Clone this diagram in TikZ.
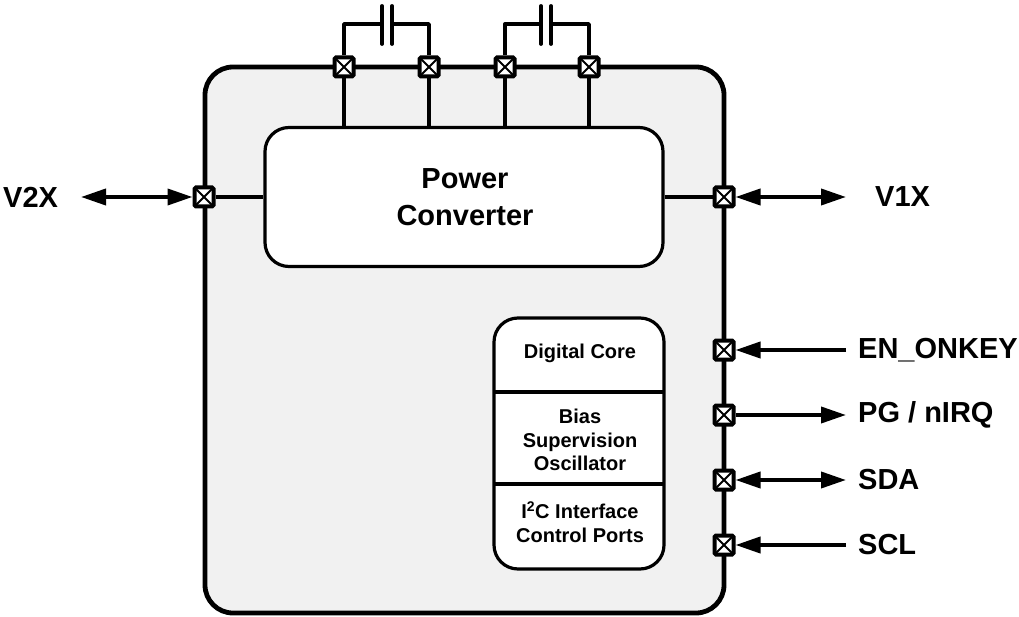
\documentclass[tikz,border=0pt]{standalone}
\usepackage{fontspec}
\setmainfont{Liberation Sans}
\usetikzlibrary{arrows.meta}
\tikzset{
  x=1pt,y=-1pt,
  chip/.style={draw=black,line width=4.8pt,fill=chipfill,rounded corners=28pt,inner sep=0pt},
  block/.style={draw=black,line width=3.2pt,fill=white,rounded corners=24pt,inner sep=0pt},
  wire/.style={draw=black,line width=3.4pt},
  sig/.style={draw=black,line width=3.8pt,-{Triangle[length=25pt,width=16pt]}},
  bisig/.style={draw=black,line width=3.8pt,{Triangle[length=25pt,width=16pt]}-{Triangle[length=25pt,width=16pt]}},
  padbox/.style={draw=black,line width=4pt,fill=white,minimum size=19pt,inner sep=0pt,rounded corners=1.5pt,
    path picture={\draw[black,line width=1.8pt] (path picture bounding box.south west)--(path picture bounding box.north east)
      (path picture bounding box.north west)--(path picture bounding box.south east);}},
  biglabel/.style={font=\bfseries\fontsize{29}{34}\selectfont,inner sep=0pt},
  smalllabel/.style={font=\bfseries\fontsize{20}{23.6}\selectfont,align=center,inner sep=0pt},
  plate/.style={draw=black,line width=3.8pt,line cap=round},
}
\definecolor{chipfill}{HTML}{F1F1F1}
\begin{document}
\begin{tikzpicture}
\useasboundingbox (0,0) rectangle (1019,617);
% outer chip
\node[chip,minimum width=519pt,minimum height=546pt] (chip) at (464.5,340) {};
% blocks
\node[block,minimum width=398pt,minimum height=139pt] (conv) at (464,197) {};
\node[block,minimum width=170pt,minimum height=251pt] (core) at (579,443.5) {};
\coordinate (d1l) at (494,392); \coordinate (d1r) at (664,392);
\coordinate (d2l) at (494,484); \coordinate (d2r) at (664,484);
\draw[wire] (d1l)--(d1r) (d2l)--(d2r);
\node[font=\bfseries\fontsize{29}{37}\selectfont,align=center,inner sep=0pt] (convt) at (465,197) {Power\\Converter};
\node[smalllabel] (t1) at (580,353) {Digital Core};
\node[smalllabel] (t2) at (580,440) {Bias\\Supervision\\Oscillator};
\node[smalllabel] (t3) at (580,522) {I\textsuperscript{2}C Interface\\Control Ports};
% pads
\node[padbox] (p1) at (344,67) {};
\node[padbox] (p2) at (429,67) {};
\node[padbox] (p3) at (505,67) {};
\node[padbox] (p4) at (589,67) {};
\node[padbox] (pl) at (204,197) {};
\node[padbox] (pr) at (724,197) {};
\node[padbox] (pa) at (724,350) {};
\node[padbox] (pb) at (724,415) {};
\node[padbox] (pc) at (724,480) {};
\node[padbox] (pd) at (724,545) {};
% pad to block wires
\draw[wire] (p1.south)--(p1.south|-conv.north);
\draw[wire] (p2.south)--(p2.south|-conv.north);
\draw[wire] (p3.south)--(p3.south|-conv.north);
\draw[wire] (p4.south)--(p4.south|-conv.north);
\draw[wire] (pl.east)--(conv.west);
\draw[wire] (conv.east)--(pr.west);
% capacitors
\coordinate (c1a) at (382,24); \coordinate (c1b) at (392,24);
\coordinate (c2a) at (541,24); \coordinate (c2b) at (551,24);
\draw[wire,line join=round] (p1.north)--(p1.north|-c1a)--(c1a);
\draw[wire,line join=round] (p2.north)--(p2.north|-c1b)--(c1b);
\draw[wire,line join=round] (p3.north)--(p3.north|-c2a)--(c2a);
\draw[wire,line join=round] (p4.north)--(p4.north|-c2b)--(c2b);
\draw[plate] (382,6)--(382,44) (392,6)--(392,44) (541,6)--(541,44) (551,6)--(551,44);
% labels
\node[biglabel,anchor=west] (v2x) at (3,197) {V2X};
\node[biglabel,anchor=west] (v1x) at (875,197) {V1X};
\node[biglabel,anchor=west] (en) at (858,350) {EN\_ONKEY};
\node[biglabel,anchor=west] (pg) at (858,415) {PG / nIRQ};
\node[biglabel,anchor=west] (sda) at (858,480) {SDA};
\node[biglabel,anchor=west] (scl) at (858,545) {SCL};
% signals
\coordinate (e2) at (81,197);
\coordinate (e1) at (846,197);
\coordinate (ea) at (846,350);
\coordinate (eb) at (846,415);
\coordinate (ec) at (846,480);
\coordinate (ed) at (846,545);
\draw[bisig] (e2)--(pl.west);
\draw[bisig] (pr.east)--(e1);
\draw[sig] (ea)--(pa.east);
\draw[sig] (pb.east)--(eb);
\draw[bisig] (pc.east)--(ec);
\draw[sig] (ed)--(pd.east);
\end{tikzpicture}
\end{document}
